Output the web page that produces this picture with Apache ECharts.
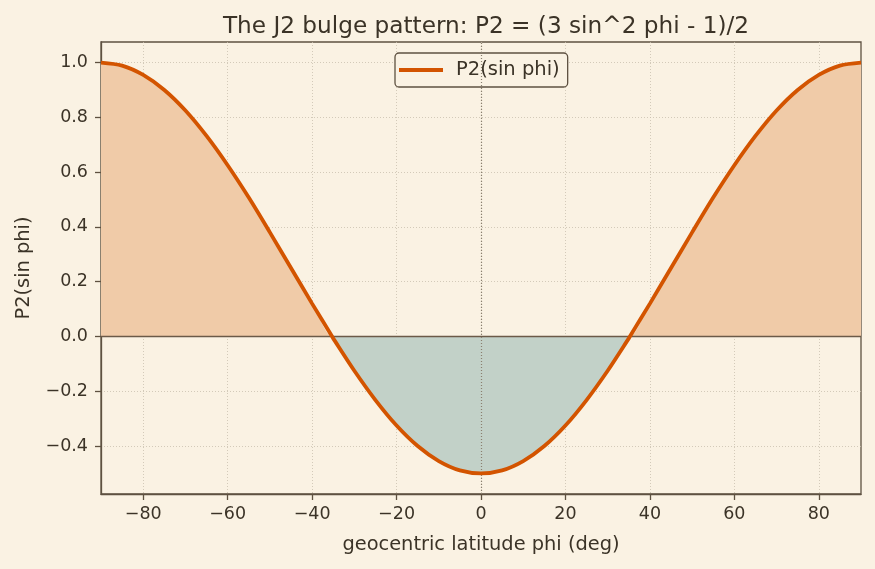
<!DOCTYPE html>
<html>
<head>
<meta charset="utf-8">
<script src="https://cdn.jsdelivr.net/npm/echarts@6/dist/echarts.min.js"></script>
<style>
  html, body { margin: 0; padding: 0; background: #faf2e3; }
  #chart { width: 875px; height: 569px; }
</style>
</head>
<body>
<div id="chart"></div>
<script>
// latitude (deg) and P2(sin phi)
const latitudes = [-90, -85, -80, -75, -70, -65, -60, -55, -50, -45, -40, -35.26, -35, -30, -25, -20, -15, -10, -5, 0,
    5, 10, 15, 20, 25, 30, 35, 35.26, 40, 45, 50, 55, 60, 65, 70, 75, 80, 85, 90]
const p2Values = [1.0, 0.989, 0.955, 0.9, 0.825, 0.732, 0.625, 0.507, 0.38, 0.25, 0.12, 0.0, -0.007, -0.125, -0.232, -0.325, -0.4, -0.455, -0.489, -0.5,
    -0.489, -0.455, -0.4, -0.325, -0.232, -0.125, -0.007, 0.0, 0.12, 0.25, 0.38, 0.507, 0.625, 0.732, 0.825, 0.9, 0.955, 0.989, 1.0]
const xTicks = [-80, -60, -40, -20, 0, 20, 40, 60, 80]
const yTicks = [-0.4, -0.2, 0.0, 0.2, 0.4, 0.6, 0.8, 1.0]

const textColor = '#3b3327'
const spineColor = '#5e5141'
const gridLine = { show: true, lineStyle: { color: '#c9bfae', type: [1, 2], width: 0.8 } }

const curve = latitudes.map((x, i) => [x, p2Values[i]])
const posPart = latitudes.map((x, i) => [x, Math.max(p2Values[i], 0)])
const negPart = latitudes.map((x, i) => [x, Math.min(p2Values[i], 0)])

const fmtMinus = (v) => v.toFixed(1).replace('-', '\u2212')

const chart = echarts.init(document.getElementById('chart'))
chart.setOption({
    backgroundColor: '#faf2e3',
    animation: false,
    textStyle: { fontFamily: 'DejaVu Sans', color: textColor },
    title: {
        text: 'The J2 bulge pattern: P2 = (3 sin^2 phi - 1)/2',
        left: 481,
        top: 10,
        textAlign: 'center',
        textStyle: { fontSize: 23.2, fontWeight: 'normal', color: textColor, fontFamily: 'DejaVu Sans' },
    },
    legend: {
        data: [{ name: 'P2(sin phi)', icon: 'rect' }],
        left: 395,
        top: 53,
        padding: [7, 8, 7, 4],
        itemWidth: 44,
        itemHeight: 4,
        borderColor: spineColor,
        borderWidth: 1.3,
        borderRadius: 4,
        backgroundColor: '#faf2e3',
        itemStyle: { color: '#d35400' },
        textStyle: { fontSize: 19.5, color: textColor, fontFamily: 'DejaVu Sans', padding: [0, 0, 0, 8] },
    },
    grid: {
        left: 101,
        right: 14,
        top: 42,
        bottom: 75,
        show: true,
        borderColor: spineColor,
        borderWidth: 1.3,
        backgroundColor: 'transparent',
    },
    xAxis: {
        type: 'value',
        min: -90,
        max: 90,
        name: 'geocentric latitude phi (deg)',
        nameLocation: 'middle',
        nameGap: 41,
        nameTextStyle: { fontSize: 19.4, color: textColor },
        axisLine: { show: true, onZero: false, lineStyle: { color: spineColor, width: 1.3 } },
        axisTick: { show: true, customValues: xTicks, length: 6, lineStyle: { color: spineColor, width: 1.3 } },
        axisLabel: { customValues: xTicks, fontSize: 17.5, color: textColor, margin: 11, formatter: (v) => String(v).replace('-', '\u2212') },
        splitLine: gridLine,
    },
    yAxis: {
        type: 'value',
        min: -0.575,
        max: 1.075,
        name: 'P2(sin phi)',
        nameLocation: 'middle',
        nameGap: 68,
        nameTextStyle: { fontSize: 19.4, color: textColor },
        axisLine: { show: true, onZero: false, lineStyle: { color: spineColor, width: 1.3 } },
        axisTick: { show: true, customValues: yTicks, length: 6, lineStyle: { color: spineColor, width: 1.3 } },
        axisLabel: { customValues: yTicks, fontSize: 17.5, color: textColor, margin: 13, formatter: fmtMinus },
        splitLine: gridLine,
    },
    series: [
        {
            name: 'pos',
            type: 'line',
            data: posPart,
            smooth: 0.3,
            showSymbol: false,
            lineStyle: { width: 0 },
            areaStyle: { color: '#f0cba8', opacity: 1, origin: 0 },
            silent: true,
            z: 1,
        },
        {
            name: 'neg',
            type: 'line',
            data: negPart,
            smooth: 0.3,
            showSymbol: false,
            lineStyle: { width: 0 },
            areaStyle: { color: '#c2d1c8', opacity: 1, origin: 0 },
            silent: true,
            z: 1,
        },
        {
            name: 'P2(sin phi)',
            type: 'line',
            data: curve,
            smooth: 0.3,
            showSymbol: false,
            color: '#d35400',
            lineStyle: { width: 3.8, color: '#d35400' },
            z: 5,
            markLine: {
                silent: true,
                symbol: 'none',
                label: { show: false },
                data: [
                    { yAxis: 0, lineStyle: { color: '#6b5a48', type: 'solid', width: 1.3 } },
                    { xAxis: 0, lineStyle: { color: '#8a8070', type: [1, 2], width: 1.2 } },
                ],
            },
        },
    ],
})
</script>
</body>
</html>
